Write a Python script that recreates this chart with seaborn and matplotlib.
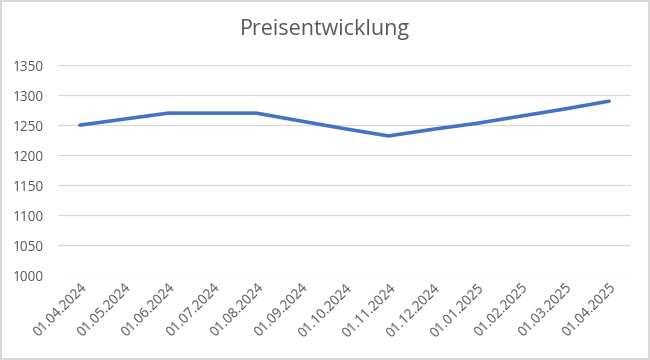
import matplotlib
matplotlib.use("Agg")
import matplotlib.pyplot as plt
import seaborn as sns
import pandas as pd

dates = ["01.04.2024", "01.05.2024", "01.06.2024", "01.07.2024", "01.08.2024",
         "01.09.2024", "01.10.2024", "01.11.2024", "01.12.2024", "01.01.2025",
         "01.02.2025", "01.03.2025", "01.04.2025"]
prices = [1250, 1260, 1270, 1270, 1270, 1257, 1244, 1232, 1243, 1253, 1265, 1277, 1290]
y_ticks = [1000, 1050, 1100, 1150, 1200, 1250, 1300, 1350]

sns.set_theme(style="white")
plt.rcParams["font.family"] = ["Open Sans", "DejaVu Sans"]

df = pd.DataFrame({"idx": range(len(dates)), "Datum": dates, "Preis": prices})

fig = plt.figure(figsize=(6.5, 3.6), dpi=100, edgecolor="#d9d9d9", linewidth=1.5)
ax = fig.add_axes([0.089, 0.236, 0.882, 0.583])

sns.lineplot(data=df, x="idx", y="Preis", ax=ax, color="#4472C4", linewidth=2.6,
             solid_capstyle="round")

ax.set_xlim(-0.5, len(dates) - 0.5)
ax.set_ylim(1000, 1350)
ax.set_yticks(y_ticks)
ax.set_yticklabels([str(v) for v in y_ticks])
ax.set_xticks(range(len(dates)))
ax.set_xticklabels(dates, rotation=45, ha="right", rotation_mode="anchor")
ax.yaxis.grid(True, color="#d9d9d9", linewidth=0.9)
ax.set_axisbelow(True)
for s in ax.spines.values():
    s.set_visible(False)
ax.tick_params(axis="both", length=0, colors="#595959", labelsize=9.8)
ax.tick_params(axis="y", pad=10)
ax.tick_params(axis="x", pad=4)
ax.set_xlabel("")
ax.set_ylabel("")

fig.text(0.5, 0.918, "Preisentwicklung", ha="center", va="center",
         fontsize=15.5, color="#595959")

fig.savefig("out.png", dpi=100, edgecolor=fig.get_edgecolor())
